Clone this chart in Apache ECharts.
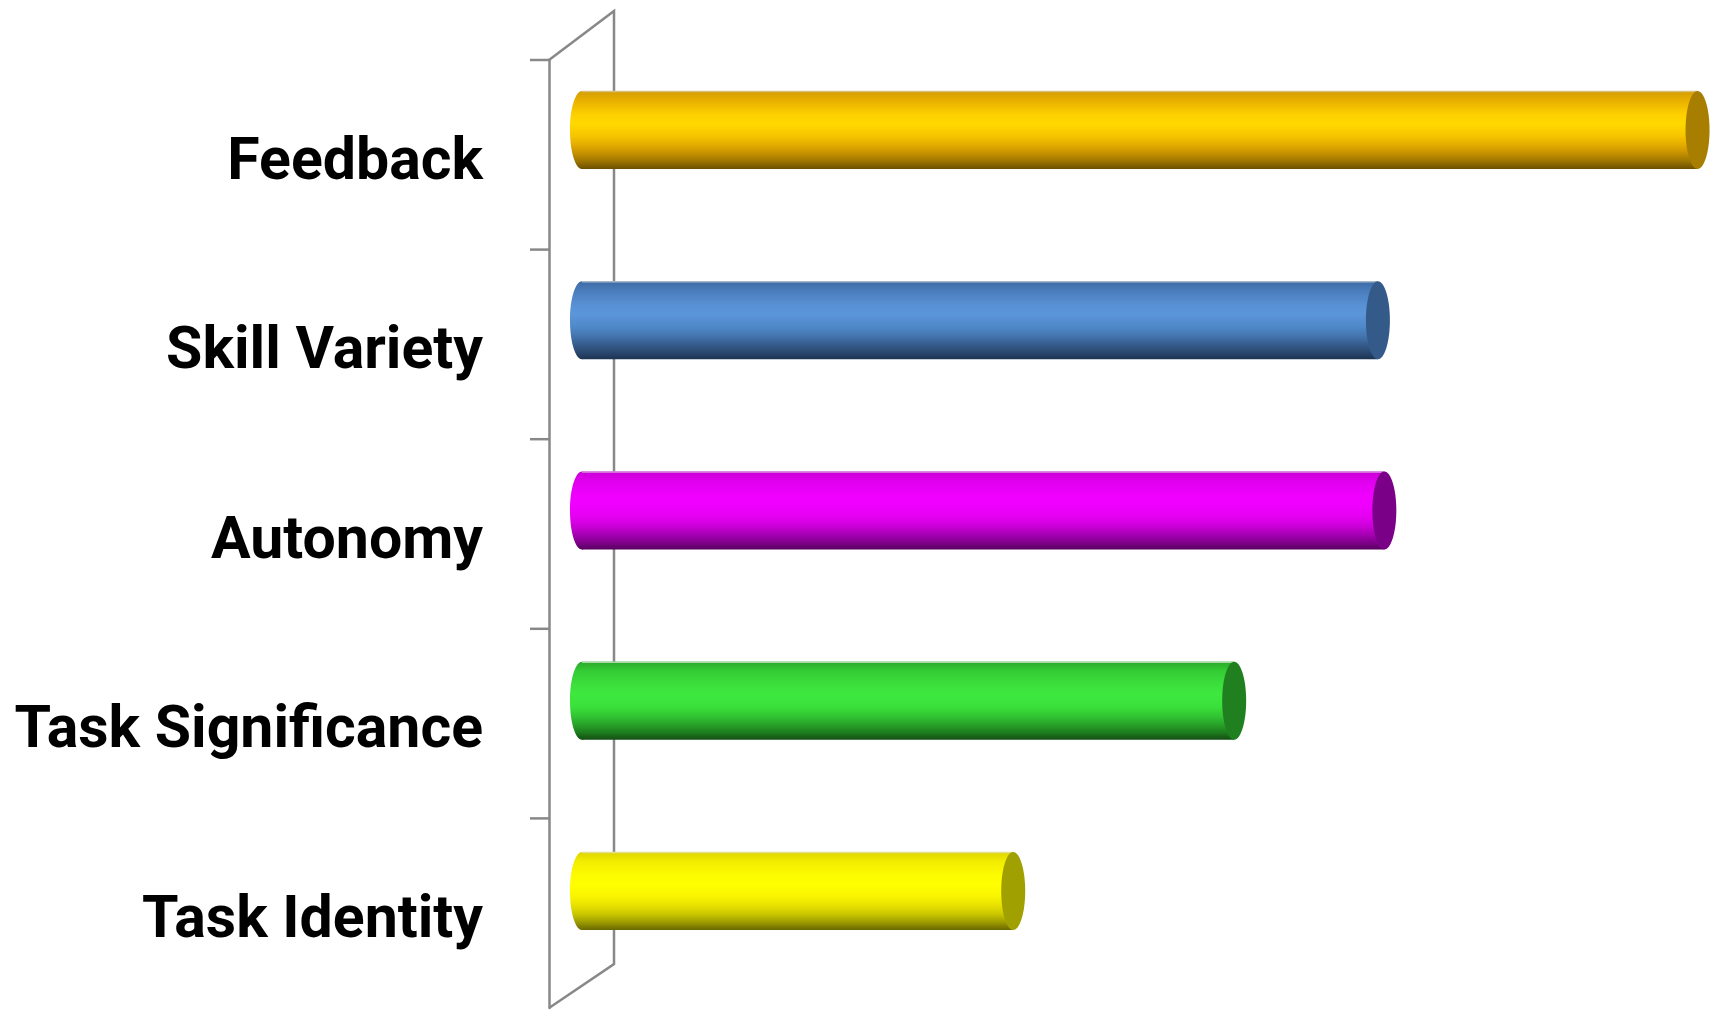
<!DOCTYPE html>
<html>
<head>
<meta charset="utf-8">
<script src="https://cdn.jsdelivr.net/npm/echarts@6/dist/echarts.min.js"></script>
<style>
html,body{margin:0;padding:0;background:#fff;}
#chart{width:1719px;height:1013px;}
</style>
</head>
<body>
<div id="chart"></div>
<script>
// ---- data ----
const categories = ['Feedback', 'Skill Variety', 'Autonomy', 'Task Significance', 'Task Identity'];
const values = [52, 37.1, 37.4, 30.4, 20.1];

// ---- styles ----
const palettes = [
  {stops: ['#d29e00', '#e9b000', '#fdd000', '#ffd900', '#f6c400', '#e2a900', '#c49000', '#9c7400', '#6a4f00'], cap: '#a87e00', edge: '#d8c07c'},
  {stops: ['#3d6aa5', '#4a7cbc', '#5891d3', '#5b96da', '#5089c9', '#4475af', '#375f90', '#2b4b73', '#1d3350'], cap: '#335a88', edge: '#a8b8cc'},
  {stops: ['#c800d4', '#df00ee', '#ef00fd', '#f000ff', '#e400f0', '#cc00d8', '#a800b6', '#84008f', '#580060'], cap: '#7a0088', edge: '#d890e0'},
  {stops: ['#2aa82a', '#34cc34', '#3ce03c', '#3ee83e', '#3ae03a', '#32c432', '#29a429', '#1e801e', '#144e14'], cap: '#208020', edge: '#a8d8a8'},
  {stops: ['#dcd400', '#f2ec00', '#fdfb00', '#ffff00', '#f8f400', '#e6de00', '#c8c600', '#9e9c00', '#6a6800'], cap: '#a0a000', edge: '#e0e090'}
];
const stopPos = [0, 0.12, 0.3, 0.42, 0.58, 0.7, 0.8, 0.9, 1];
const axisColor = '#888888';

function grad(p) {
  return new echarts.graphic.LinearGradient(0, 0, 0, 1,
    p.stops.map((c, i) => ({offset: stopPos[i], color: c})));
}

const chart = echarts.init(document.getElementById('chart'), null, {renderer: 'canvas'});

const option = {
  animation: false,
  backgroundColor: '#ffffff',
  grid: [
    {left: 582, right: 0, top: 35, bottom: 27},
    {left: 549, width: 10, top: 60, bottom: 5}
  ],
  xAxis: [
    {gridIndex: 0, type: 'value', min: 0, max: 53, show: false},
    {gridIndex: 1, type: 'value', min: 0, max: 1, show: false}
  ],
  yAxis: [
    {gridIndex: 0, type: 'category', data: categories, inverse: true, show: false},
    {
      gridIndex: 1, type: 'category', data: categories, inverse: true,
      axisLine: {show: true, lineStyle: {color: axisColor, width: 2.5}},
      axisTick: {show: false},
      axisLabel: {
        margin: 66,
        formatter: '{a|{value}}',
        rich: {
          a: {
            color: '#000',
            fontFamily: 'Roboto, "Open Sans", sans-serif',
            fontWeight: 'bold', fontSize: 59,
            padding: [18, 0, 0, 0]
          }
        }
      },
      splitLine: {show: false}
    }
  ],
  series: [{
    type: 'custom',
    xAxisIndex: 0, yAxisIndex: 0,
    z: 5,
    encode: {x: 0, y: 1},
    data: values.map((v, i) => [v, i]),
    renderItem: function (params, api) {
      const i = api.value(1);
      const start = api.coord([0, i]);
      const end = api.coord([api.value(0), i]);
      const band = api.size([0, 1])[1];
      const h = band * 0.41;
      const rx = 12;
      const p = palettes[i];
      const y0 = start[1] - h / 2;
      return {
        type: 'group',
        children: [
          {type: 'ellipse', shape: {cx: start[0], cy: start[1], rx: rx, ry: h / 2},
            style: {fill: grad(p)}},
          {type: 'rect', shape: {x: start[0], y: y0, width: end[0] - start[0], height: h},
            style: {fill: grad(p)}},
          {type: 'line', shape: {x1: start[0], y1: y0 + 0.5, x2: end[0], y2: y0 + 0.5},
            style: {stroke: p.edge, lineWidth: 1.5}},
          {type: 'ellipse', shape: {cx: end[0], cy: end[1], rx: rx, ry: h / 2},
            style: {fill: p.cap}}
        ]
      };
    }
  }]
};
chart.setOption(option);

// 3D wall frame + ticks, positioned from the front category axis
const frontX = chart.convertToPixel({xAxisIndex: 1}, 0);
const yTop = chart.convertToPixel({yAxisIndex: 1}, categories[0]);
const yNext = chart.convertToPixel({yAxisIndex: 1}, categories[1]);
const bandPx = yNext - yTop;
const boundaries = [];
for (let i = 0; i < categories.length; i++) {
  boundaries.push(chart.convertToPixel({yAxisIndex: 1}, categories[i]) - bandPx / 2);
}
const yBottom = boundaries[0] + bandPx * categories.length;
const depthX = 65, depthY = 48;
const frame = [{
  type: 'polyline', z: 0, silent: true,
  shape: {points: [[frontX, yTop - bandPx / 2], [frontX + depthX, yTop - bandPx / 2 - depthY - 1],
                   [frontX + depthX, yBottom - depthY + 4], [frontX, yBottom]]},
  style: {stroke: axisColor, lineWidth: 2.5, fill: null}
}];
boundaries.forEach(function (y) {
  frame.push({
    type: 'line', z: 0, silent: true,
    shape: {x1: frontX - 19, y1: y, x2: frontX, y2: y},
    style: {stroke: axisColor, lineWidth: 2.5}
  });
});
chart.setOption({graphic: frame});
</script>
</body>
</html>
